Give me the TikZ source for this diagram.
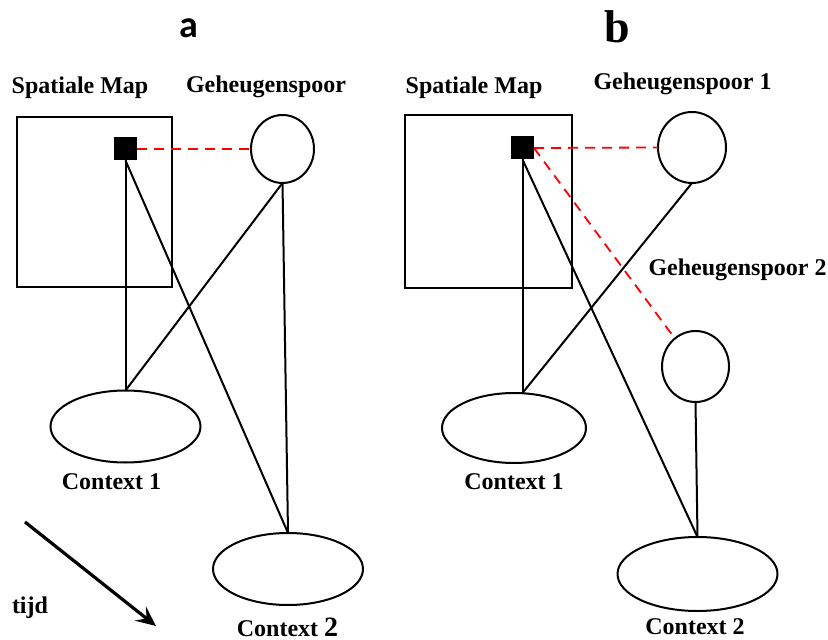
\documentclass[tikz,border=0pt]{standalone}
\usepackage{fontspec}
\usepackage{xcolor}
\usepackage{tikz}
\usetikzlibrary{shapes.geometric}
\usetikzlibrary{arrows.meta}
\setmainfont{Liberation Serif}
\newfontfamily\titlefont{Carlito}
\tikzstyle{mapbox} = [draw=black, line width=1pt, rectangle, inner sep=0pt, outer sep=0pt]
\tikzstyle{place} = [fill=black, rectangle, minimum size=11.5pt, inner sep=0pt, outer sep=0pt]
\tikzstyle{trace} = [draw=black, line width=1pt, ellipse, inner sep=0pt, outer sep=0pt]
\tikzstyle{context} = [draw=black, line width=1pt, ellipse, inner sep=0pt, outer sep=0pt, minimum width=75pt, minimum height=36pt]
\tikzstyle{label} = [font=\fontsize{12}{12}\selectfont\bfseries, inner sep=0pt]
\tikzstyle{link} = [draw=black, line width=1pt]
\tikzstyle{redlink} = [draw=red, line width=0.9pt, dash pattern=on 5pt off 3.5pt]

\begin{document}
\begin{tikzpicture}[x=0.5pt, y=-0.5pt]
        \useasboundingbox (0,0) rectangle (828,640);
        % panel a
        \node[font=\titlefont\fontsize{19}{19}\selectfont\bfseries, inner sep=0pt] (titleA) at (188.5,28) {a};
        \node[label] (mapLabelA) at (80,88) {Spatiale Map};
        \node[label] (memLabelA) at (266,87) {Geheugenspoor};
        \node[mapbox, minimum width=77.5pt, minimum height=85pt] (mapA) at (94.5,202) {};
        \node[place] (placeA) at (125.5,149) {};
        \node[trace, minimum width=31.5pt, minimum height=34pt] (memA) at (282.5,149) {};
        \node[context] (ctxOneA) at (125.5,426.5) {};
        \node[context] (ctxTwoA) at (288,569) {};
        \node[label] (ctxOneLabelA) at (111.5,482) {Context 1};
        \node[label] (ctxTwoLabelA) at (287.5,627) {Context {\fontsize{14}{14}\selectfont 2}};
        \draw[redlink] (placeA.east) -- (memA.west);
        \draw[link] (placeA.south) -- (ctxOneA.north);
        \draw[link] (placeA.south) -- (ctxTwoA.north);
        \draw[link] (memA.south) -- (ctxOneA.north);
        \draw[link] (memA.south) -- (ctxTwoA.north);
        % time arrow
        \coordinate (timeStart) at (25,522);
        \coordinate (timeEnd) at (156,626);
        \draw[line width=1.6pt, -{Stealth[length=10pt, width=9pt, inset=4pt]}] (timeStart) -- (timeEnd);
        \node[label] (timeLabel) at (30,608) {tijd};
        % panel b
        \node[font=\fontsize{23}{23}\selectfont\bfseries, inner sep=0pt] (titleB) at (617.5,27) {b};
        \node[label] (mapLabelB) at (474,88) {Spatiale Map};
        \node[label] (memOneLabelB) at (682.5,84) {Geheugenspoor 1};
        \node[label] (memTwoLabelB) at (737.5,270) {Geheugenspoor 2};
        \node[mapbox, minimum width=83.5pt, minimum height=86.5pt] (mapB) at (488.5,201.5) {};
        \node[place] (placeB) at (522.5,148) {};
        \node[trace, minimum width=34pt, minimum height=35.5pt] (memOneB) at (692,147.5) {};
        \node[trace, minimum width=33.5pt, minimum height=35.5pt] (memTwoB) at (695.5,366.5) {};
        \node[context, minimum width=72pt, minimum height=35pt] (ctxOneB) at (514,428) {};
        \node[context, minimum width=80pt, minimum height=37pt] (ctxTwoB) at (697.5,574) {};
        \node[label] (ctxOneLabelB) at (514,482) {Context 1};
        \node[label] (ctxTwoLabelB) at (695,627) {Context 2};
        \coordinate (ctxOneTopB) at (placeB.south |- ctxOneB.north);
        \draw[redlink] (placeB.east) -- (memOneB.west);
        \draw[redlink] (placeB.east) -- (memTwoB);
        \draw[link] (placeB.south) -- (ctxOneTopB);
        \draw[link] (placeB.south) -- (ctxTwoB.north);
        \draw[link] (memOneB.south) -- (ctxOneTopB);
        \draw[link] (memTwoB.south) -- (ctxTwoB.north);
    \end{tikzpicture}
\end{document}
